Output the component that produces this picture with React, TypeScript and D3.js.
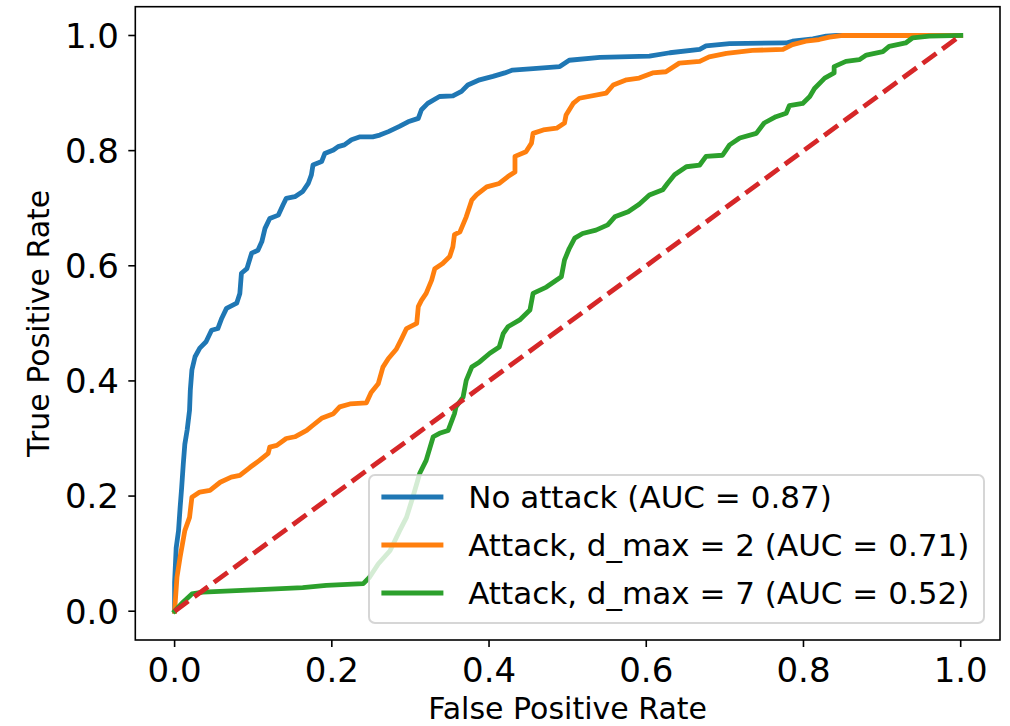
import React from "react";
import { scaleLinear, line, format } from "d3";

const width = 1010;
const height = 726;

// axes box in pixels (matplotlib-like figure)
const plot = { left: 135.3, right: 1000, top: 6.7, bottom: 640 };

const tickFont = 34;
const labelFont = 30;
const legendFont = 31;
const lineWidth = 4.8;

// data: [false positive rate, true positive rate]
const xTicks = [0, 0.2, 0.4, 0.6, 0.8, 1.0];
const yTicks = [0, 0.2, 0.4, 0.6, 0.8, 1.0];

const noAttack: [number, number][] = [
  [0, 0], [0, 0.05], [0.002, 0.11], [0.005, 0.14], [0.007, 0.18], [0.009, 0.215],
  [0.011, 0.255], [0.013, 0.29], [0.016, 0.315], [0.019, 0.349], [0.02, 0.384],
  [0.022, 0.419], [0.026, 0.442], [0.032, 0.457], [0.04, 0.468], [0.047, 0.488],
  [0.055, 0.491], [0.06, 0.509], [0.066, 0.526], [0.079, 0.535], [0.083, 0.552],
  [0.085, 0.587], [0.092, 0.595], [0.098, 0.622], [0.106, 0.627], [0.111, 0.642],
  [0.115, 0.665], [0.121, 0.682], [0.132, 0.688], [0.138, 0.706], [0.142, 0.717],
  [0.153, 0.72], [0.163, 0.729], [0.17, 0.743], [0.174, 0.758], [0.176, 0.775],
  [0.187, 0.781], [0.191, 0.795], [0.202, 0.801], [0.208, 0.807], [0.216, 0.81],
  [0.225, 0.819], [0.236, 0.824], [0.252, 0.824], [0.261, 0.827], [0.272, 0.833],
  [0.286, 0.842], [0.297, 0.85], [0.31, 0.856], [0.314, 0.871], [0.322, 0.882],
  [0.337, 0.894], [0.354, 0.895], [0.365, 0.903], [0.373, 0.914], [0.388, 0.923],
  [0.405, 0.929], [0.42, 0.935], [0.43, 0.94], [0.452, 0.942], [0.49, 0.946],
  [0.502, 0.957], [0.541, 0.962], [0.604, 0.964], [0.63, 0.97], [0.668, 0.976],
  [0.676, 0.982], [0.706, 0.986], [0.778, 0.987], [0.786, 0.99], [0.812, 0.994],
  [0.829, 0.999], [0.842, 1], [1, 1],
];

const attackD2: [number, number][] = [
  [0, 0], [0.003, 0.059], [0.007, 0.094], [0.013, 0.14], [0.019, 0.163], [0.022, 0.198],
  [0.032, 0.207], [0.045, 0.21], [0.058, 0.224], [0.072, 0.233], [0.083, 0.236],
  [0.096, 0.25], [0.108, 0.262], [0.119, 0.274], [0.121, 0.285], [0.13, 0.288],
  [0.142, 0.3], [0.153, 0.303], [0.168, 0.314], [0.176, 0.323], [0.187, 0.335],
  [0.202, 0.343], [0.21, 0.355], [0.223, 0.36], [0.244, 0.362], [0.25, 0.38],
  [0.259, 0.395], [0.265, 0.424], [0.272, 0.439], [0.282, 0.455], [0.289, 0.474],
  [0.295, 0.491], [0.308, 0.5], [0.31, 0.529], [0.314, 0.54], [0.32, 0.552],
  [0.327, 0.575], [0.331, 0.595], [0.341, 0.604], [0.35, 0.616], [0.354, 0.633],
  [0.356, 0.654], [0.363, 0.659], [0.371, 0.685], [0.378, 0.714], [0.384, 0.723],
  [0.397, 0.737], [0.413, 0.743], [0.424, 0.755], [0.433, 0.763], [0.433, 0.79],
  [0.447, 0.798], [0.454, 0.813], [0.456, 0.83], [0.469, 0.836], [0.486, 0.839],
  [0.496, 0.848], [0.498, 0.862], [0.507, 0.882], [0.515, 0.891], [0.549, 0.9],
  [0.558, 0.914], [0.575, 0.923], [0.591, 0.926], [0.608, 0.935], [0.625, 0.937],
  [0.642, 0.952], [0.668, 0.955], [0.68, 0.963], [0.702, 0.969], [0.735, 0.974],
  [0.774, 0.976], [0.786, 0.984], [0.803, 0.99], [0.82, 0.993], [0.833, 0.997],
  [0.85, 1], [1, 1],
];

const attackD7: [number, number][] = [
  [0, 0], [0.011, 0.016], [0.022, 0.03], [0.036, 0.033], [0.1, 0.037], [0.163, 0.041],
  [0.193, 0.045], [0.24, 0.048], [0.248, 0.059], [0.259, 0.082], [0.274, 0.105],
  [0.286, 0.139], [0.295, 0.163], [0.303, 0.198], [0.312, 0.24], [0.32, 0.262],
  [0.329, 0.303], [0.337, 0.309], [0.348, 0.314], [0.356, 0.343], [0.358, 0.355],
  [0.367, 0.372], [0.371, 0.401], [0.378, 0.424], [0.388, 0.433], [0.401, 0.448],
  [0.413, 0.459], [0.418, 0.482], [0.424, 0.494], [0.439, 0.506], [0.452, 0.523],
  [0.456, 0.552], [0.473, 0.563], [0.492, 0.581], [0.496, 0.61], [0.502, 0.63],
  [0.509, 0.648], [0.519, 0.656], [0.536, 0.662], [0.551, 0.671], [0.56, 0.685],
  [0.577, 0.694], [0.591, 0.707], [0.604, 0.723], [0.621, 0.732], [0.627, 0.743],
  [0.636, 0.758], [0.651, 0.772], [0.668, 0.775], [0.676, 0.79], [0.697, 0.792],
  [0.706, 0.81], [0.719, 0.822], [0.74, 0.83], [0.75, 0.848], [0.765, 0.859],
  [0.778, 0.865], [0.782, 0.878], [0.799, 0.882], [0.808, 0.894], [0.814, 0.908],
  [0.827, 0.926], [0.839, 0.935], [0.839, 0.946], [0.854, 0.955], [0.871, 0.958],
  [0.88, 0.966], [0.901, 0.972], [0.909, 0.981], [0.93, 0.987], [0.939, 0.996],
  [0.96, 0.999], [1, 1],
];

const chance: [number, number][] = [[0, 0], [1, 1]];

const seriesLabels = [
  "No attack (AUC = 0.87)",
  "Attack, d_max = 2 (AUC = 0.71)",
  "Attack, d_max = 7 (AUC = 0.52)",
];
const seriesColors = ["#1f77b4", "#ff7f0e", "#2ca02c"];
const chanceColor = "#d62728";

const xLabel = "False Positive Rate";
const yLabel = "True Positive Rate";

const fontFamily = "'DejaVu Sans', sans-serif";

export default function App() {
  const xScale = scaleLinear().domain([-0.05, 1.05]).range([plot.left, plot.right]);
  const yScale = scaleLinear().domain([-0.05, 1.05]).range([plot.bottom, plot.top]);
  const fmt = format(".1f");

  const path = line<[number, number]>()
    .x((d) => xScale(d[0]))
    .y((d) => yScale(d[1]));

  const series = [noAttack, attackD2, attackD7];

  // legend box (lower right, like matplotlib)
  const lg = { left: 369, right: 984, top: 475, bottom: 623 };
  const rowY = [497, 545, 593];
  const handleX0 = lg.left + 0.4 * legendFont;
  const handleX1 = handleX0 + 2 * legendFont;
  const textX = handleX1 + 0.8 * legendFont;

  return (
    <div style={{ position: "absolute", left: 0, top: 0 }}>
      <svg width={width} height={height} style={{ display: "block", background: "#fff" }}>
        <defs>
          <clipPath id="plotClip">
            <rect
              x={plot.left}
              y={plot.top}
              width={plot.right - plot.left}
              height={plot.bottom - plot.top}
            />
          </clipPath>
        </defs>

        {/* curves */}
        <g clipPath="url(#plotClip)" fill="none" strokeLinejoin="round" strokeLinecap="square">
          {series.map((s, i) => (
            <path key={i} d={path(s) ?? ""} stroke={seriesColors[i]} strokeWidth={lineWidth} />
          ))}
          <path
            d={path(chance) ?? ""}
            stroke={chanceColor}
            strokeWidth={lineWidth}
            strokeDasharray="17 7.4"
            strokeLinecap="butt"
          />
        </g>

        {/* spines */}
        <rect
          x={plot.left}
          y={plot.top}
          width={plot.right - plot.left}
          height={plot.bottom - plot.top}
          fill="none"
          stroke="#000"
          strokeWidth={1.6}
        />

        {/* ticks */}
        <g fontFamily={fontFamily} fontSize={tickFont} fill="#000">
          {xTicks.map((t) => (
            <g key={"x" + t}>
              <line x1={xScale(t)} x2={xScale(t)} y1={plot.bottom} y2={plot.bottom + 7} stroke="#000" strokeWidth={1.6} />
              <text x={xScale(t)} y={plot.bottom + 42} textAnchor="middle">
                {fmt(t)}
              </text>
            </g>
          ))}
          {yTicks.map((t) => (
            <g key={"y" + t}>
              <line x1={plot.left - 7} x2={plot.left} y1={yScale(t)} y2={yScale(t)} stroke="#000" strokeWidth={1.6} />
              <text x={119} y={yScale(t) + 12.4} textAnchor="end">
                {fmt(t)}
              </text>
            </g>
          ))}
        </g>

        {/* axis labels */}
        <text
          x={(plot.left + plot.right) / 2}
          y={719}
          textAnchor="middle"
          fontFamily={fontFamily}
          fontSize={labelFont}
        >
          {xLabel}
        </text>
        <text
          transform={`translate(49,${(plot.top + plot.bottom) / 2}) rotate(-90)`}
          textAnchor="middle"
          fontFamily={fontFamily}
          fontSize={labelFont}
        >
          {yLabel}
        </text>

        {/* legend */}
        <g fontFamily={fontFamily} fontSize={legendFont}>
          <rect
            x={lg.left}
            y={lg.top}
            width={lg.right - lg.left}
            height={lg.bottom - lg.top}
            rx={6}
            ry={6}
            fill="#fff"
            fillOpacity={0.8}
            stroke="#cccccc"
            strokeOpacity={0.8}
            strokeWidth={2}
          />
          {seriesLabels.map((label, i) => (
            <g key={label}>
              <line
                x1={handleX0}
                x2={handleX1}
                y1={rowY[i]}
                y2={rowY[i]}
                stroke={seriesColors[i]}
                strokeWidth={lineWidth}
              />
              <text x={textX} y={rowY[i] + 11} fill="#000">
                {label}
              </text>
            </g>
          ))}
        </g>
      </svg>
    </div>
  );
}
